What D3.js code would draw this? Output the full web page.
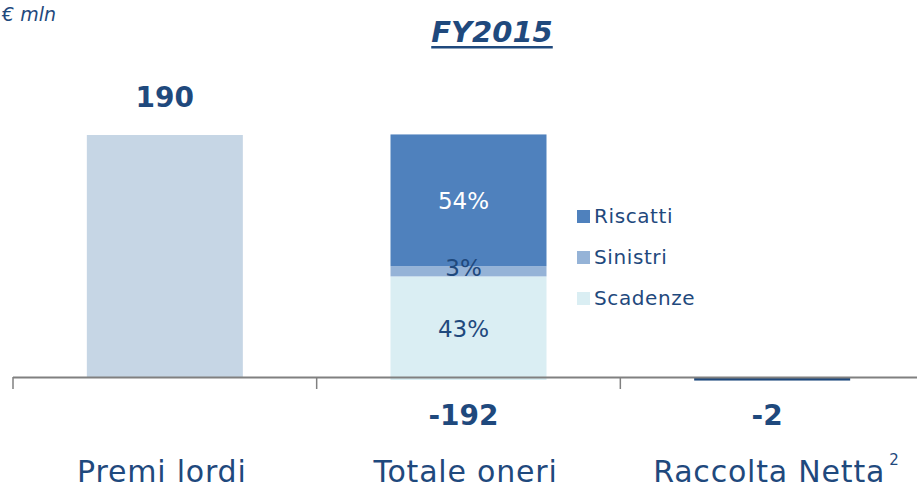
<!DOCTYPE html>
<html><head><meta charset="utf-8">
<script src="https://cdn.jsdelivr.net/npm/d3@7"></script>
<style>body{margin:0;background:#fff}svg{display:block}text{font-family:"DejaVu Sans",sans-serif}</style>
</head><body>
<script>
const categories = ["Premi lordi", "Totale oneri", "Raccolta Netta"];
const totals = [190, -192, -2];
const totalLabels = ["190", "-192", "-2"];
const stackKeys = ["Scadenze", "Sinistri", "Riscatti"];
const stackValues = [81, 8, 103];
const stackLabels = ["43%", "3%", "54%"];
const legendOrder = ["Riscatti", "Sinistri", "Scadenze"];

const W = 917, H = 488;
const dark = "#1F497D";
const colors = {Scadenze: "#DAEEF3", Sinistri: "#95B3D7", Riscatti: "#4F81BD"};
const svg = d3.select("body").append("svg").attr("width", W).attr("height", H);

const x = d3.scaleBand().domain(categories).range([13, 924]).paddingInner(0).paddingOuter(0);
const y = d3.scaleLinear().domain([0, 190]).range([378, 135]);
const bw = 156;
const cx = c => x(c) + x.bandwidth() / 2;

// Bar 1
svg.append("rect").attr("x", cx(categories[0]) - bw/2).attr("width", bw)
  .attr("y", y(totals[0])).attr("height", y(0) - y(totals[0])).attr("fill", "#C6D6E5");

// Stacked bar 2 (absolute values)
let acc = 0;
const segs = stackKeys.map((k, i) => { const s = {k, v0: acc, v1: acc + stackValues[i], lab: stackLabels[i]}; acc += stackValues[i]; return s; });
const y2 = d3.scaleLinear().domain([0, 190]).range([380, 137]);
svg.selectAll(".seg").data(segs).join("rect")
  .attr("x", cx(categories[1]) - bw/2).attr("width", bw)
  .attr("y", d => y2(d.v1)).attr("height", d => y2(d.v0) - y2(d.v1))
  .attr("fill", d => colors[d.k]);
svg.selectAll(".segl").data(segs).join("text")
  .attr("x", cx(categories[1]) - 5)
  .attr("y", d => y2((d.v0 + d.v1) / 2) + (d.k === "Sinistri" ? 5 : 8.5))
  .attr("text-anchor", "middle").attr("font-size", 23)
  .attr("fill", d => d.k === "Riscatti" ? "#fff" : dark)
  .text(d => d.lab);

// Bar 3 (negative)
svg.append("rect").attr("x", cx(categories[2]) - bw/2).attr("width", bw)
  .attr("y", y(0)).attr("height", y(totals[2]) - y(0)).attr("fill", dark);

// Axis
svg.append("line").attr("x1", 13).attr("x2", W).attr("y1", 377.5).attr("y2", 377.5)
  .attr("stroke", "#808080").attr("stroke-width", 2);
const tickPos = categories.map(c => x(c));
svg.selectAll(".tk").data(tickPos).join("line")
  .attr("x1", d => d).attr("x2", d => d).attr("y1", 377).attr("y2", 389)
  .attr("stroke", "#808080").attr("stroke-width", 1.5);

// Value labels
svg.selectAll(".vl").data(categories).join("text")
  .attr("x", (c, i) => cx(c) - (i === 0 ? 0 : 5))
  .attr("y", (c, i) => totals[i] > 0 ? y(totals[i]) - 28 : 425)
  .attr("text-anchor", "middle").attr("font-size", 28).attr("font-weight", "bold")
  .attr("fill", dark).text((c, i) => totalLabels[i]);

// Category labels
const cl = svg.selectAll(".cl").data(categories).join("text")
  .attr("x", c => cx(c) - 3).attr("y", 482)
  .attr("text-anchor", "middle").attr("font-size", 30).attr("letter-spacing", 0.8).attr("fill", dark)
  .text(c => c);
const lastBox = cl.nodes()[2].getBBox();
svg.append("text").attr("x", lastBox.x + lastBox.width + 4).attr("y", 465).attr("font-size", 15).attr("fill", dark).text("2");

// Legend
const lg = svg.selectAll(".lg").data(legendOrder).join("g")
  .attr("transform", (d, i) => `translate(577,${216 + i * 41})`);
lg.append("rect").attr("x", 0).attr("y", -6).attr("width", 13).attr("height", 13).attr("fill", d => colors[d]);
lg.append("text").attr("x", 17).attr("y", 7).attr("font-size", 20).attr("letter-spacing", 0.6).attr("fill", dark).text(d => d);

// Titles
svg.append("text").attr("x", 2).attr("y", 21).attr("font-size", 19).attr("font-style", "italic").attr("fill", dark).text("€ mln");
const t = svg.append("text").attr("x", 492).attr("y", 42).attr("text-anchor", "middle")
  .attr("font-size", 29).attr("font-weight", "bold").attr("font-style", "italic")
  .attr("fill", dark).text("FY2015");
const bb = t.node().getBBox();
svg.append("rect").attr("x", bb.x).attr("width", bb.width).attr("y", 46).attr("height", 2.5).attr("fill", dark);
</script>
</body></html>
